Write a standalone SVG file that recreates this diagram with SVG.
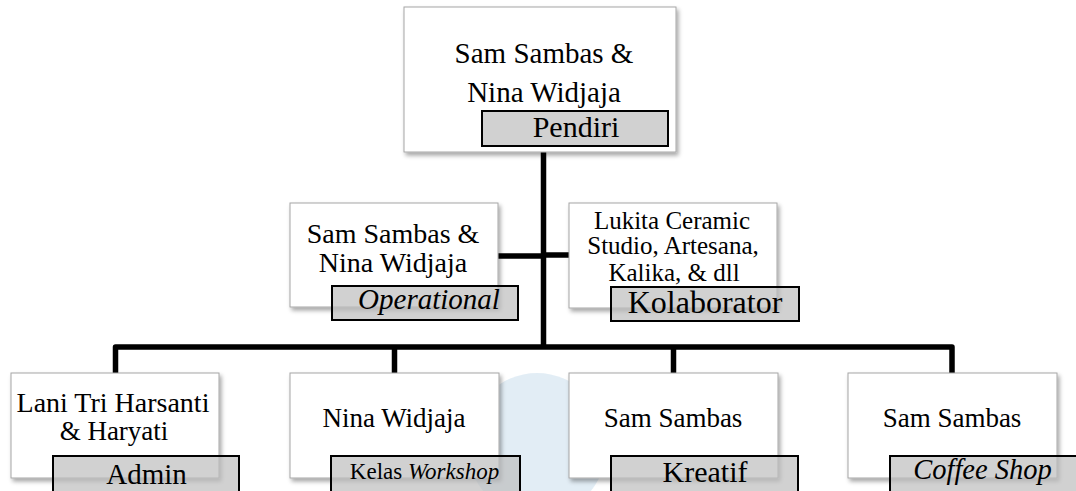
<svg xmlns="http://www.w3.org/2000/svg" width="1076" height="491" viewBox="0 0 1076 491">
<defs>
<filter id="sh" x="-10%" y="-10%" width="125%" height="130%">
<feDropShadow dx="2" dy="3" stdDeviation="2" flood-color="#000" flood-opacity="0.35"/>
</filter>
<style>
.box{fill:#fff;stroke:#a6a6a6;stroke-width:1;filter:url(#sh)}
.lbl{fill:#bdbdbd;fill-opacity:0.7;stroke:#000;stroke-width:2}
.t{font-family:"Liberation Serif","Times New Roman",serif;fill:#000;text-anchor:middle}
.i{font-style:italic}
.con{fill:none;stroke:#000;stroke-width:5.5;stroke-linejoin:round}
</style>
</defs>
<rect width="1076" height="491" fill="#fff"/>
<ellipse cx="537" cy="445" rx="70" ry="72" fill="#d6e6f1" opacity="0.7"/>
<g id="connectors">
<path class="con" d="M543.5 152 V347"/>
<path class="con" d="M498 256 H543.5"/>
<path class="con" d="M543.5 255 H569"/>
<path class="con" d="M115.5 373 V347 H952 V373"/>
<path class="con" d="M394.5 347 V373"/>
<path class="con" d="M673.5 347 V373"/>
</g>
<g id="pendiri">
<rect class="box" x="404" y="7" width="272" height="145"/>
<text class="t" x="544" y="63" font-size="29">Sam Sambas &amp;</text>
<text class="t" x="544" y="102" font-size="29">Nina Widjaja</text>
<rect class="lbl" x="482" y="111" width="186" height="35"/>
<text class="t" x="576" y="137" font-size="30">Pendiri</text>
</g>
<g id="operational">
<rect class="box" x="290" y="203" width="208" height="104"/>
<text class="t" x="393" y="243" font-size="28">Sam Sambas &amp;</text>
<text class="t" x="393" y="272" font-size="28">Nina Widjaja</text>
<rect class="lbl" x="332" y="286" width="186" height="34"/>
<text class="t i" x="429" y="309" font-size="29">Operational</text>
</g>
<g id="kolaborator">
<rect class="box" x="569" y="203" width="208" height="105"/>
<text class="t" x="672" y="229" font-size="25">Lukita Ceramic</text>
<text class="t" x="673" y="254" font-size="25">Studio, Artesana,</text>
<text class="t" x="674" y="281" font-size="25">Kalika, &amp; dll</text>
<rect class="lbl" x="611" y="287" width="188" height="34"/>
<text class="t" x="705" y="313" font-size="32">Kolaborator</text>
</g>
<g id="admin">
<rect class="box" x="11" y="373" width="208" height="105"/>
<text class="t" x="113" y="412" font-size="28">Lani Tri Harsanti</text>
<text class="t" x="114" y="440" font-size="27">&amp; Haryati</text>
<rect class="lbl" x="53" y="456" width="186" height="40"/>
<text class="t" x="146.5" y="484" font-size="29">Admin</text>
</g>
<g id="workshop">
<rect class="box" x="290" y="373" width="209" height="105"/>
<text class="t" x="394" y="427" font-size="27">Nina Widjaja</text>
<rect class="lbl" x="331" y="456" width="189" height="40"/>
<text class="t" x="424.5" y="479" font-size="23">Kelas <tspan class="i">Workshop</tspan></text>
</g>
<g id="kreatif">
<rect class="box" x="569" y="373" width="209" height="105"/>
<text class="t" x="673" y="427" font-size="27">Sam Sambas</text>
<rect class="lbl" x="611" y="456" width="187" height="40"/>
<text class="t" x="705" y="482" font-size="30">Kreatif</text>
</g>
<g id="coffeeshop">
<rect class="box" x="848" y="373" width="209" height="105"/>
<text class="t" x="952" y="427" font-size="27">Sam Sambas</text>
<rect class="lbl" x="890" y="456" width="200" height="40"/>
<text class="t i" x="982.5" y="479" font-size="28.5">Coffee Shop</text>
</g>
</svg>
